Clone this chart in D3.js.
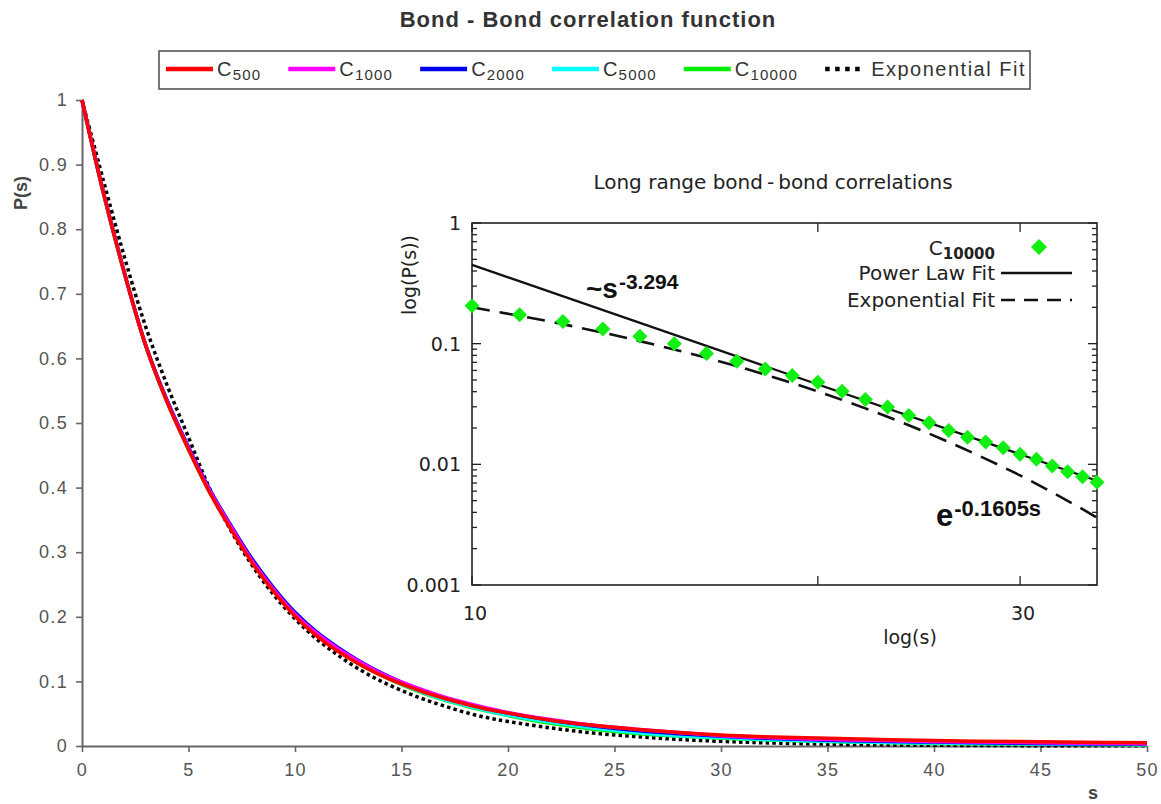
<!DOCTYPE html>
<html>
<head>
<meta charset="utf-8">
<script src="https://cdn.jsdelivr.net/npm/d3@7"></script>
<style>
  body { margin: 0; background: #fff; }
  svg { display: block; }
</style>
</head>
<body>
<svg id="chart"></svg>
<script>
// ---- main panel data: P(s) for every chain length ----
const sValues = [0, 1, 2, 3, 4, 5, 6, 7, 8, 9, 10, 11, 12, 13, 14, 15, 16, 17, 18, 19, 20,
  22, 24, 26, 28, 30, 32, 35, 38, 40, 42, 45, 48, 50]

const c500 = [1.000, 0.857, 0.731, 0.619, 0.532, 0.459, 0.392, 0.335, 0.283, 0.239, 0.201,
  0.171, 0.147, 0.127, 0.110, 0.096, 0.084, 0.074, 0.065, 0.057, 0.051,
  0.040, 0.032, 0.026, 0.021, 0.017, 0.0145, 0.012, 0.0095, 0.0085, 0.0075, 0.0065, 0.0055, 0.005]
const c1000 = [1.000, 0.857, 0.731, 0.619, 0.533, 0.461, 0.395, 0.339, 0.286, 0.242, 0.204,
  0.175, 0.151, 0.131, 0.113, 0.099, 0.087, 0.076, 0.067, 0.059, 0.052,
  0.041, 0.032, 0.026, 0.021, 0.016, 0.013, 0.010, 0.008, 0.007, 0.006, 0.005, 0.004, 0.0035]
const c2000 = [1.000, 0.858, 0.732, 0.620, 0.535, 0.463, 0.397, 0.341, 0.289, 0.245, 0.207,
  0.177, 0.153, 0.132, 0.114, 0.099, 0.086, 0.075, 0.066, 0.058, 0.051,
  0.040, 0.031, 0.024, 0.019, 0.015, 0.012, 0.009, 0.007, 0.006, 0.005, 0.004, 0.003, 0.003]
const c5000 = [1.000, 0.857, 0.731, 0.619, 0.533, 0.460, 0.393, 0.337, 0.285, 0.241, 0.203,
  0.173, 0.149, 0.128, 0.111, 0.096, 0.083, 0.072, 0.063, 0.055, 0.048,
  0.037, 0.028, 0.021, 0.016, 0.013, 0.010, 0.0075, 0.0055, 0.0045, 0.004, 0.003, 0.0025, 0.002]
const c10000 = [1.000, 0.856, 0.730, 0.618, 0.532, 0.459, 0.392, 0.336, 0.284, 0.240, 0.202,
  0.172, 0.148, 0.127, 0.110, 0.095, 0.082, 0.071, 0.062, 0.054, 0.047,
  0.035, 0.026, 0.0195, 0.0153, 0.0121, 0.0097, 0.0071, 0.005, 0.004, 0.0035, 0.0028, 0.0022, 0.002]
const expFitMain = [1.000, 0.876, 0.756, 0.648, 0.558, 0.478, 0.398, 0.333, 0.279, 0.234, 0.197,
  0.166, 0.141, 0.119, 0.101, 0.086, 0.073, 0.062, 0.052, 0.044, 0.038,
  0.028, 0.020, 0.0145, 0.0102, 0.0072, 0.0050, 0.0029, 0.0017, 0.0012, 0.0008, 0.0005, 0.0003, 0.0002]

const chainNames = ['500', '1000', '2000', '5000', '10000']
const chainColors = ['#ff0000', '#ff00ff', '#0000ee', '#00ffff', '#00ee00']
const chainValues = [c500, c1000, c2000, c5000, c10000]
const xTicks = [0, 5, 10, 15, 20, 25, 30, 35, 40, 45, 50]
const yTicks = [0, 0.1, 0.2, 0.3, 0.4, 0.5, 0.6, 0.7, 0.8, 0.9, 1]

// ---- inset data: long range part of C10000 on log-log axes ----
const insetS = [10, 11, 12, 13, 14, 15, 16, 17, 18, 19, 20, 21, 22, 23, 24, 25, 26, 27, 28, 29, 30,
  31, 32, 33, 34, 35]
const insetC10000 = [0.206, 0.174, 0.153, 0.132, 0.115, 0.100, 0.0827, 0.0714, 0.0618, 0.0544, 0.0479,
  0.0403, 0.0345, 0.0298, 0.0254, 0.0221, 0.0191, 0.0168, 0.0153, 0.0137, 0.0121,
  0.0110, 0.0097, 0.0087, 0.0079, 0.0071]
const powerS = [10, 35]
const powerP = [0.45, 0.0073]
const expS = [10, 12, 14, 16, 18, 20, 22, 24, 26, 28, 30, 32, 34, 35]
const expP = [0.200, 0.145, 0.105, 0.0763, 0.0554, 0.0402, 0.0291, 0.0211, 0.0153, 0.0111, 0.0081,
  0.00586, 0.00425, 0.00362]
const insetYTicks = [0.001, 0.01, 0.1, 1]
const insetXTicks = [10, 20, 30]
const insetXLabels = [10, 30]

// constants
const width = 1161
const height = 804
const sansFont = 'Liberation Sans, Arial, sans-serif'
const dejaFont = 'DejaVu Sans, sans-serif'

const svg = d3.select('svg#chart').attr('width', width).attr('height', height)
svg.append('rect').attr('width', width).attr('height', height).attr('fill', '#fff')

// ================= main panel =================
const x = d3.scaleLinear().domain([0, 50]).range([82, 1147])
const y = d3.scaleLinear().domain([0, 1]).range([746, 100])

const gx = svg.append('g').attr('transform', 'translate(0,' + y(0) + ')')
  .call(d3.axisBottom(x).tickValues(xTicks).tickSize(6).tickSizeOuter(0).tickPadding(11))
const gy = svg.append('g').attr('transform', 'translate(' + x(0) + ',0)')
  .call(d3.axisLeft(y).tickValues(yTicks).tickFormat(d3.format('~g')).tickSize(6).tickSizeOuter(0).tickPadding(8))

for (const g of [gx, gy]) {
  g.attr('color', '#666').attr('font-family', sansFont).attr('font-size', 18)
  g.select('.domain').attr('stroke-width', 2)
  g.selectAll('.tick line').attr('stroke-width', 1.6)
  g.selectAll('.tick text').attr('fill', '#555').attr('letter-spacing', 1.3)
}

svg.append('text').attr('x', 588).attr('y', 27).attr('text-anchor', 'middle')
  .attr('font-family', sansFont).attr('font-weight', 'bold').attr('font-size', 22)
  .attr('letter-spacing', 1).attr('fill', '#333')
  .text('Bond - Bond correlation function')

svg.append('text').attr('transform', 'translate(27,193) rotate(-90)').attr('text-anchor', 'middle')
  .attr('font-family', sansFont).attr('font-weight', 'bold').attr('font-size', 18).attr('fill', '#444')
  .text('P(s)')

svg.append('text').attr('x', 1093).attr('y', 799).attr('text-anchor', 'middle')
  .attr('font-family', sansFont).attr('font-weight', 'bold').attr('font-size', 18).attr('fill', '#444')
  .text('s')

const mainLine = d3.line().curve(d3.curveCatmullRom.alpha(0.5))
  .x((d, i) => x(sValues[i]))
  .y(d => y(d))

// exponential fit first, then the chains so red ends up on top
svg.append('path').datum(expFitMain).attr('d', mainLine)
  .attr('fill', 'none').attr('stroke', '#000').attr('stroke-width', 3.5)
  .attr('stroke-dasharray', '3.5 3.2')

for (let k = chainValues.length - 1; k >= 0; k--) {
  svg.append('path').datum(chainValues[k]).attr('d', mainLine)
    .attr('fill', 'none').attr('stroke', chainColors[k]).attr('stroke-width', 3.5)
    .attr('stroke-linejoin', 'round')
}

// legend
const legend = svg.append('g')
legend.append('rect').attr('x', 159).attr('y', 51).attr('width', 871).attr('height', 38)
  .attr('fill', '#fff').attr('stroke', '#555').attr('stroke-width', 1.6)

let cursor = 166
chainNames.forEach((name, i) => {
  legend.append('line').attr('x1', cursor).attr('x2', cursor + 47).attr('y1', 69).attr('y2', 69)
    .attr('stroke', chainColors[i]).attr('stroke-width', 4.5)
  const t = legend.append('text').attr('x', cursor + 51).attr('y', 76)
    .attr('font-family', sansFont).attr('font-size', 20).attr('fill', '#333').attr('letter-spacing', 1.2)
  t.append('tspan').text('C')
  t.append('tspan').attr('font-size', 15).attr('dy', 4).text(name)
  cursor = cursor + 51 + t.node().getBBox().width + 27
})
legend.append('line').attr('x1', cursor).attr('x2', cursor + 40).attr('y1', 69).attr('y2', 69)
  .attr('stroke', '#000').attr('stroke-width', 4.5).attr('stroke-dasharray', '4.5 5.5')
legend.append('text').attr('x', cursor + 46).attr('y', 76)
  .attr('font-family', sansFont).attr('font-size', 20).attr('fill', '#333').attr('letter-spacing', 1.5)
  .text('Exponential Fit')

// ================= inset =================
const ix = d3.scaleLog().domain([10, 35]).range([472, 1097])
const iy = d3.scaleLog().domain([0.001, 1]).range([585, 223])
const inset = svg.append('g')

inset.append('text').attr('x', 773).attr('y', 189).attr('text-anchor', 'middle')
  .attr('font-family', dejaFont).attr('font-size', 20).attr('fill', '#222')
  .text('Long range bond\u2009-\u2009bond correlations')

// minor / major y ticks on both sides, pointing inward
const yMinor = iy.ticks()
for (const v of yMinor) {
  const major = insetYTicks.includes(v)
  const len = major ? 9 : 5
  inset.append('line').attr('x1', ix(10)).attr('x2', ix(10) + len).attr('y1', iy(v)).attr('y2', iy(v))
    .attr('stroke', '#222').attr('stroke-width', 1.3)
  inset.append('line').attr('x1', ix(35)).attr('x2', ix(35) - len).attr('y1', iy(v)).attr('y2', iy(v))
    .attr('stroke', '#222').attr('stroke-width', 1.3)
}
for (const v of insetXTicks) {
  inset.append('line').attr('x1', ix(v)).attr('x2', ix(v)).attr('y1', iy(0.001)).attr('y2', iy(0.001) - 9)
    .attr('stroke', '#222').attr('stroke-width', 1.3)
  inset.append('line').attr('x1', ix(v)).attr('x2', ix(v)).attr('y1', iy(1)).attr('y2', iy(1) + 9)
    .attr('stroke', '#222').attr('stroke-width', 1.3)
}
inset.append('rect').attr('x', ix(10)).attr('y', iy(1))
  .attr('width', ix(35) - ix(10)).attr('height', iy(0.001) - iy(1))
  .attr('fill', 'none').attr('stroke', '#222').attr('stroke-width', 1.6)

inset.selectAll('text.ytick').data(insetYTicks).enter().append('text').attr('class', 'ytick')
  .attr('x', 461).attr('y', d => iy(d)).attr('dy', '0.36em').attr('text-anchor', 'end')
  .attr('font-family', dejaFont).attr('font-size', 19).attr('fill', '#222')
  .text(d => d3.format('~g')(d))
inset.selectAll('text.xtick').data(insetXLabels).enter().append('text').attr('class', 'xtick')
  .attr('x', d => ix(d) + 3).attr('y', 620).attr('text-anchor', 'middle')
  .attr('font-family', dejaFont).attr('font-size', 19).attr('fill', '#222')
  .text(d => d)

inset.append('text').attr('transform', 'translate(416,275) rotate(-90)').attr('text-anchor', 'middle')
  .attr('font-family', dejaFont).attr('font-size', 19).attr('fill', '#222')
  .text('log(P(s))')
inset.append('text').attr('x', 910).attr('y', 644).attr('text-anchor', 'middle')
  .attr('font-family', dejaFont).attr('font-size', 19).attr('fill', '#222')
  .text('log(s)')

// fits
const powerLine = d3.line().x((d, i) => ix(powerS[i])).y(d => iy(d))
inset.append('path').datum(powerP).attr('d', powerLine)
  .attr('fill', 'none').attr('stroke', '#111').attr('stroke-width', 2.2)
const expLine = d3.line().curve(d3.curveMonotoneX).x((d, i) => ix(expS[i])).y(d => iy(d))
inset.append('path').datum(expP).attr('d', expLine)
  .attr('fill', 'none').attr('stroke', '#111').attr('stroke-width', 2.6)
  .attr('stroke-dasharray', '18 10')

// diamonds
const diamond = (w, h) => 'M0,' + (-h) + 'L' + w + ',0L0,' + h + 'L' + (-w) + ',0Z'
inset.selectAll('path.pt').data(insetC10000).enter().append('path').attr('class', 'pt')
  .attr('d', diamond(7.5, 7.5))
  .attr('transform', (d, i) => 'translate(' + ix(insetS[i]) + ',' + iy(d) + ')')
  .attr('fill', '#11ee11')

// inset legend
const il = inset.append('g').attr('font-family', dejaFont).attr('fill', '#222')
const ct = il.append('text').attr('x', 995).attr('y', 255).attr('text-anchor', 'end').attr('font-size', 20)
ct.append('tspan').text('C')
ct.append('tspan').attr('font-size', 15).attr('font-weight', 'bold').attr('dy', 4).text('10000')
il.append('path').attr('d', diamond(8, 8)).attr('transform', 'translate(1039,247)').attr('fill', '#11ee11')
il.append('text').attr('x', 995).attr('y', 280).attr('text-anchor', 'end').attr('font-size', 20).text('Power Law Fit')
il.append('line').attr('x1', 1001).attr('x2', 1072).attr('y1', 273).attr('y2', 273)
  .attr('stroke', '#111').attr('stroke-width', 2.4)
il.append('text').attr('x', 995).attr('y', 307).attr('text-anchor', 'end').attr('font-size', 20).text('Exponential Fit')
il.append('line').attr('x1', 1001).attr('x2', 1072).attr('y1', 300).attr('y2', 300)
  .attr('stroke', '#111').attr('stroke-width', 2.6).attr('stroke-dasharray', '14 9')

// annotations
const a1 = inset.append('text').attr('x', 586).attr('y', 298)
  .attr('font-family', sansFont).attr('font-weight', 'bold').attr('fill', '#111')
a1.append('tspan').attr('font-size', 28).text('~s')
a1.append('tspan').attr('font-size', 21).attr('dy', -9).attr('dx', 1).text('-3.294')

const a2 = inset.append('text').attr('x', 936).attr('y', 526)
  .attr('font-family', sansFont).attr('font-weight', 'bold').attr('fill', '#111')
a2.append('tspan').attr('font-size', 31).text('e')
a2.append('tspan').attr('font-size', 22).attr('dy', -10).attr('dx', 1).text('-0.1605s')
</script>
</body>
</html>
